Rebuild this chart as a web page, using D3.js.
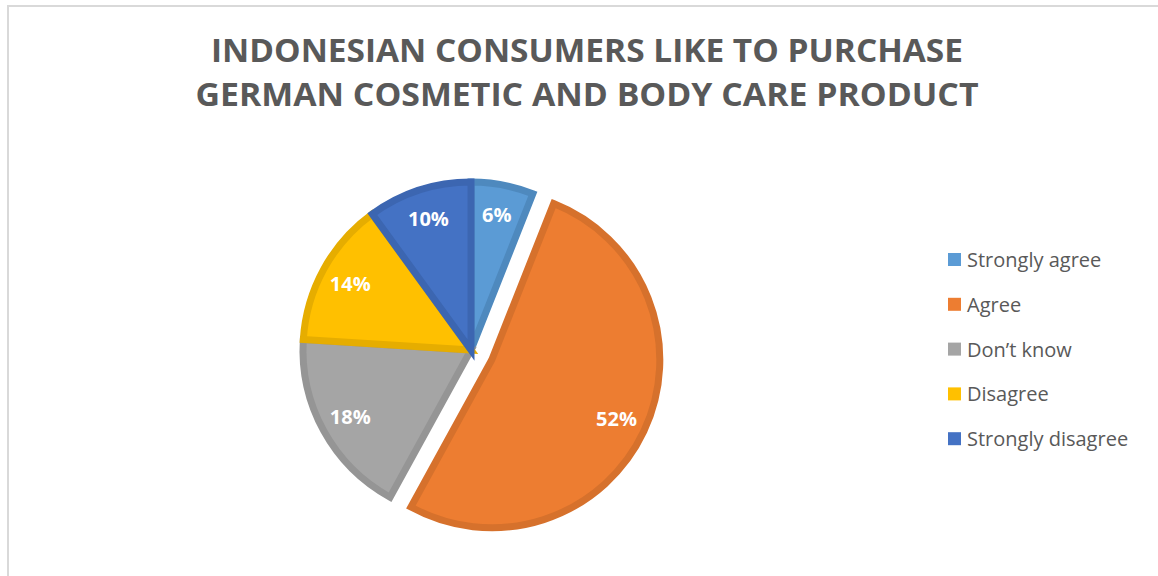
<!DOCTYPE html>
<html>
<head>
<meta charset="utf-8">
<script src="https://cdn.jsdelivr.net/npm/d3@7"></script>
<style>
  body { margin: 0; background: #fff; }
  svg { display: block; font-family: "Open Sans", sans-serif; }
</style>
</head>
<body>
<div id="chart"></div>
<script>
// data
const categories = ["Strongly agree", "Agree", "Don\u2019t know", "Disagree", "Strongly disagree"];
const shares = [6, 52, 18, 14, 10];
const fills = ["#5B9BD5", "#ED7D31", "#A5A5A5", "#FFC000", "#4472C4"];
const strokes = ["#4E89BE", "#D6712C", "#959595", "#E6AD00", "#3C66B1"];
const titleLines = ["INDONESIAN CONSUMERS LIKE TO PURCHASE", "GERMAN COSMETIC AND BODY CARE PRODUCT"];
const exploded = "Agree";

const width = 1158, height = 576;
const cx = 471, cy = 350;
const radius = 168;
const explode = 23;

const svg = d3.select("#chart")
  .append("svg")
  .attr("width", width)
  .attr("height", height);

// chart frame
svg.append("path")
  .attr("d", `M8,${height} L8,6 L${width},6`)
  .attr("fill", "none")
  .attr("stroke", "#D9D9D9")
  .attr("stroke-width", 2);

// title
svg.append("g")
  .selectAll("text")
  .data(titleLines)
  .join("text")
  .attr("x", 587)
  .attr("y", (d, i) => 62 + i * 44)
  .attr("text-anchor", "middle")
  .attr("font-size", 32)
  .attr("font-weight", "bold")
  .attr("fill", "#595959")
  .attr("textLength", (d, i) => i == 0 ? 752 : 783)
  .attr("lengthAdjust", "spacingAndGlyphs")
  .text(d => d);

const data = categories.map((c, i) => ({ name: c, value: shares[i], fill: fills[i], stroke: strokes[i] }));

const pie = d3.pie().value(d => d.value).sort(null);
const arcs = pie(data);

const arc = d3.arc().innerRadius(0).outerRadius(radius);
const labelArc = d3.arc().innerRadius(radius * 0.82).outerRadius(radius * 0.82);

// shift for the pulled-out slice
function offset(d) {
  if (d.data.name != exploded) return [0, 0];
  const a = (d.startAngle + d.endAngle) / 2;
  return [Math.sin(a) * explode, -Math.cos(a) * explode];
}

const slice = svg.append("g")
  .attr("transform", `translate(${cx},${cy})`)
  .selectAll("g")
  .data(arcs)
  .join("g")
  .attr("transform", d => `translate(${offset(d)})`);

slice.append("path")
  .attr("d", arc)
  .attr("fill", d => d.data.fill)
  .attr("stroke", d => d.data.stroke)
  .attr("stroke-width", 7)
  .attr("stroke-linejoin", "miter");

slice.append("text")
  .attr("transform", d => `translate(${labelArc.centroid(d)})`)
  .attr("text-anchor", "middle")
  .attr("dy", "0.36em")
  .attr("font-size", 20)
  .attr("font-weight", "bold")
  .attr("fill", "#fff")
  .text(d => d.data.value + "%");

// legend
const legend = svg.append("g")
  .selectAll("g")
  .data(data)
  .join("g")
  .attr("transform", (d, i) => `translate(948, ${260 + i * 44.8})`);

legend.append("rect")
  .attr("x", 0)
  .attr("y", -7)
  .attr("width", 13)
  .attr("height", 13)
  .attr("fill", d => d.fill);

legend.append("text")
  .attr("x", 19)
  .attr("dy", "0.35em")
  .attr("font-size", 20)
  .attr("fill", "#595959")
  .text(d => d.name);
</script>
</body>
</html>
